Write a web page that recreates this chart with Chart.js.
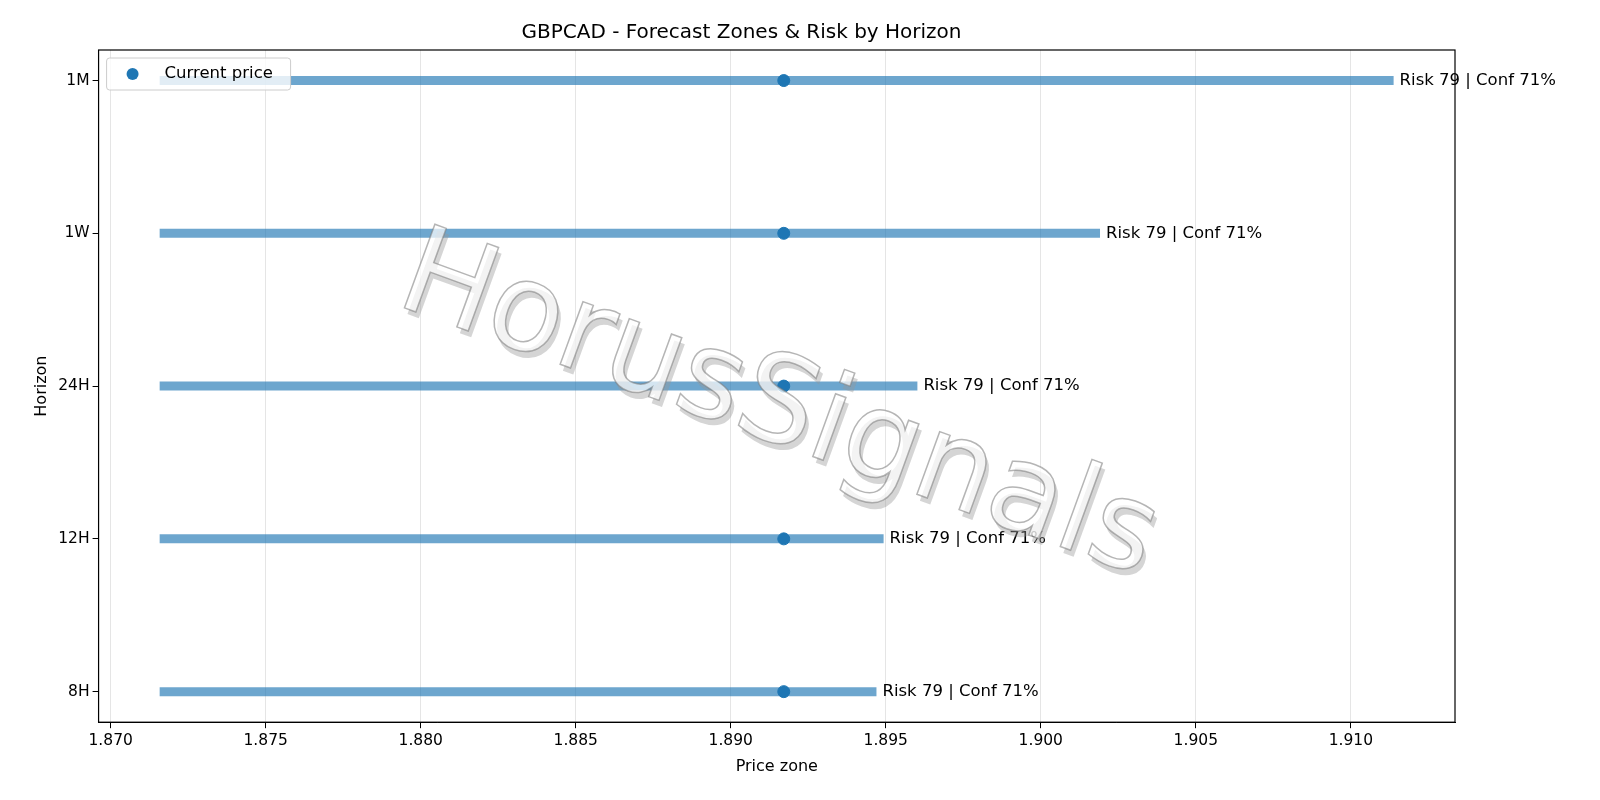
<!DOCTYPE html>
<html>
<head>
<meta charset="utf-8">
<script src="https://cdn.jsdelivr.net/npm/chart.js@4/dist/chart.umd.min.js"></script>
<style>
  body { margin: 0; background: #fff; }
  #wrap { width: 1600px; height: 800px; }
</style>
</head>
<body>
<div id="wrap"><canvas id="chart"></canvas></div>
<script>
// horizons, top to bottom
const horizons = ['1M', '1W', '24H', '12H', '8H'];
const zoneLow = [1.87158, 1.87158, 1.87158, 1.87158, 1.87158];
const zoneHigh = [1.91138, 1.90191, 1.89602, 1.89493, 1.89470];
const currentPrice = [1.89171, 1.89171, 1.89171, 1.89171, 1.89171];
const riskLabels = ['Risk 79 | Conf 71%', 'Risk 79 | Conf 71%', 'Risk 79 | Conf 71%', 'Risk 79 | Conf 71%', 'Risk 79 | Conf 71%'];
const xTicks = [1.870, 1.875, 1.880, 1.885, 1.890, 1.895, 1.900, 1.905, 1.910];

const FONT = 'DejaVu Sans';
const blue = '#1f77b4';
const zoneColour = 'rgba(31, 119, 180, 0.65)';

let zoneSets = horizons.map((h, i) => ({
    type: 'line',
    label: h,
    data: [{ x: zoneLow[i], y: i }, { x: zoneHigh[i], y: i }],
    borderColor: zoneColour,
    borderWidth: 9,
    borderCapStyle: 'butt',
    pointRadius: 0,
    fill: false,
}));

let priceSet = {
    type: 'scatter',
    label: 'Current price',
    data: horizons.map((h, i) => ({ x: currentPrice[i], y: i })),
    backgroundColor: blue,
    borderColor: blue,
    pointRadius: 6,
};

const extras = {
    id: 'extras',
    afterDatasetsDraw(chart) {
        const { ctx, chartArea, scales } = chart;
        ctx.save();
        // end labels
        ctx.fillStyle = '#000';
        ctx.font = '16.5px ' + FONT;
        ctx.textBaseline = 'middle';
        horizons.forEach((h, i) => {
            ctx.fillText(riskLabels[i], scales.x.getPixelForValue(zoneHigh[i]) + 6, scales.y.getPixelForValue(i));
        });
        // watermark
        ctx.translate(778, 410);
        ctx.rotate(20 * Math.PI / 180);
        ctx.font = '122px ' + FONT;
        ctx.textAlign = 'center';
        ctx.textBaseline = 'middle';
        ctx.fillStyle = 'rgba(150,150,150,0.4)';
        ctx.fillText('HorusSignals', 5, 5);
        ctx.fillStyle = 'rgba(255,255,255,0.7)';
        ctx.strokeStyle = 'rgba(120,120,120,0.55)';
        ctx.lineWidth = 1.5;
        ctx.fillText('HorusSignals', 0, 0);
        ctx.strokeText('HorusSignals', 0, 0);
        ctx.restore();
        // legend
        ctx.save();
        const lx = chartArea.left + 8, ly = chartArea.top + 8;
        ctx.fillStyle = 'rgba(255,255,255,0.8)';
        ctx.strokeStyle = '#ccc';
        ctx.lineWidth = 1;
        ctx.beginPath();
        ctx.roundRect(lx, ly, 184, 32, 3);
        ctx.fill();
        ctx.stroke();
        ctx.fillStyle = blue;
        ctx.beginPath();
        ctx.arc(lx + 26, ly + 16, 6, 0, Math.PI * 2);
        ctx.fill();
        ctx.fillStyle = '#000';
        ctx.font = '16.5px ' + FONT;
        ctx.textBaseline = 'middle';
        ctx.fillText('Current price', lx + 58, ly + 16);
        // frame
        ctx.strokeStyle = '#000';
        ctx.lineWidth = 1.2;
        ctx.strokeRect(chartArea.left, chartArea.top, chartArea.right - chartArea.left, chartArea.bottom - chartArea.top);
        ctx.restore();
    },
};

new Chart(document.getElementById('chart').getContext('2d'), {
    data: { datasets: [...zoneSets, priceSet] },
    options: {
        responsive: true,
        maintainAspectRatio: false,
        animation: false,
        layout: { padding: { left: 28, right: 145, top: 4, bottom: 20 } },
        plugins: {
            legend: { display: false },
            tooltip: { enabled: false },
            title: {
                display: true,
                text: 'GBPCAD - Forecast Zones & Risk by Horizon',
                color: '#000',
                font: { family: FONT, size: 20, weight: 'normal' },
                padding: { top: 17, bottom: 5 },
            },
        },
        scales: {
            x: {
                type: 'linear',
                min: 1.86961,
                max: 1.91336,
                afterBuildTicks(axis) { axis.ticks = xTicks.map(v => ({ value: v })); },
                ticks: { color: '#000', font: { family: FONT, size: 15.5 }, callback: v => v.toFixed(3) },
                grid: { color: 'rgba(0,0,0,0.1)', tickColor: '#000', tickLength: 6 },
                border: { color: '#000' },
                title: { display: true, text: 'Price zone', color: '#000', font: { family: FONT, size: 16 } },
            },
            y: {
                type: 'linear',
                min: -0.2,
                max: 4.2,
                reverse: true,
                afterBuildTicks(axis) { axis.ticks = horizons.map((h, i) => ({ value: i })); },
                ticks: { color: '#000', font: { family: FONT, size: 15.5 }, callback: v => horizons[v] },
                grid: { drawOnChartArea: false, tickColor: '#000', tickLength: 6 },
                border: { color: '#000' },
                title: { display: true, text: 'Horizon', color: '#000', font: { family: FONT, size: 16 } },
            },
        },
    },
    plugins: [extras],
});
</script>
</body>
</html>
